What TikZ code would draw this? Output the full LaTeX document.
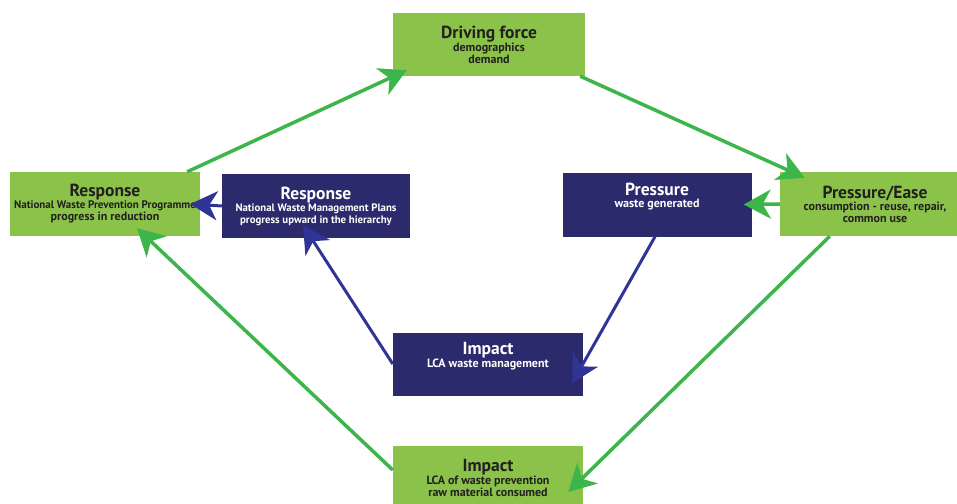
\documentclass[tikz,border=0pt]{standalone}
\usepackage{fontspec}
\setmainfont{PT Sans}
\usetikzlibrary{arrows.meta}

\definecolor{boxgreen}{RGB}{139,195,74}
\definecolor{arrowgreen}{RGB}{60,182,74}
\definecolor{boxblue}{RGB}{43,42,108}
\definecolor{arrowblue}{RGB}{48,52,150}
\definecolor{darktext}{RGB}{35,31,32}

\newcommand{\titlefont}{\fontsize{17.5}{19}\selectfont}
\newcommand{\subfont}{\fontsize{12}{14}\selectfont}
\newcommand{\smallsub}{\fontsize{10.8}{14}\selectfont}

\tikzset{
  greenbox/.style={fill=boxgreen, text=darktext, font=\bfseries, align=center, inner sep=0pt},
  bluebox/.style={fill=boxblue, text=white, font=\bfseries, align=center, inner sep=0pt},
  greenarrow/.style={draw=arrowgreen, line width=3.5pt, -{Stealth[length=27pt,width=29pt,inset=8pt]}},
  bluearrow/.style={draw=arrowblue, line width=3pt, -{Stealth[length=27pt,width=29pt,inset=8pt]}}
}

\begin{document}
\begin{tikzpicture}[x=1pt,y=-1pt]
\clip (0,0) rectangle (957,503);
\fill[white] (0,0) rectangle (957,503);

% outer cycle
\node[greenbox, minimum width=192pt, minimum height=63pt] (drive) at (489,44.5)
  {{\titlefont Driving force}\\{\subfont demographics}\\{\subfont demand}};
\node[greenbox, minimum width=190pt, minimum height=64pt] (respg) at (105,204)
  {{\titlefont Response}\\{\fontsize{11}{14}\selectfont National Waste Prevention Programme}\\{\subfont progress in reduction}};
\node[greenbox, minimum width=190pt, minimum height=64pt] (prese) at (875,204)
  {{\titlefont Pressure/Ease}\\{\subfont consumption - reuse, repair,}\\{\subfont common use}};
\node[greenbox, minimum width=190pt, minimum height=64pt] (impg) at (488,478)
  {{\titlefont Impact}\\{\subfont LCA of waste prevention}\\{\subfont raw material consumed}};

% inner cycle
\node[bluebox, minimum width=188pt, minimum height=64pt] (respb) at (316,206)
  {{\titlefont Response}\\{\smallsub National Waste Management Plans}\\{\smallsub progress upward in the hierarchy}};
\node[bluebox, minimum width=189pt, minimum height=64pt] (presb) at (657,204.5)
  {{\titlefont Pressure}\\{\subfont waste generated}\\{\subfont\strut}};
\node[bluebox, minimum width=190pt, minimum height=63pt] (impb) at (488,364)
  {{\titlefont Impact}\\{\subfont LCA waste management}\\{\subfont\strut}};

% green arrows
\draw[greenarrow] ([xshift=-13pt]respg.north east) -- ([xshift=14pt,yshift=6pt]drive.south west);
\draw[greenarrow] ([xshift=-5pt]drive.south east) -- ([xshift=25pt,yshift=-6pt]prese.north west);
\draw[greenarrow] (prese.west) -- ([xshift=-8pt]presb.east);
\draw[greenarrow] ([xshift=50pt]prese.south west) -- ([xshift=-15pt,yshift=-14pt]impg.east);
\draw[greenarrow] ([yshift=8pt]impg.west) -- ([xshift=32pt,yshift=8pt]respg.south);

% blue arrows
\draw[bluearrow] ([xshift=-2pt]presb.south) -- ([xshift=-11pt,yshift=-19pt]impb.east);
\draw[bluearrow] (impb.west) -- ([xshift=-13pt,yshift=13pt]respb.south);
\draw[bluearrow] (respb.west) -- ([xshift=-10pt]respg.east);
\end{tikzpicture}
\end{document}
